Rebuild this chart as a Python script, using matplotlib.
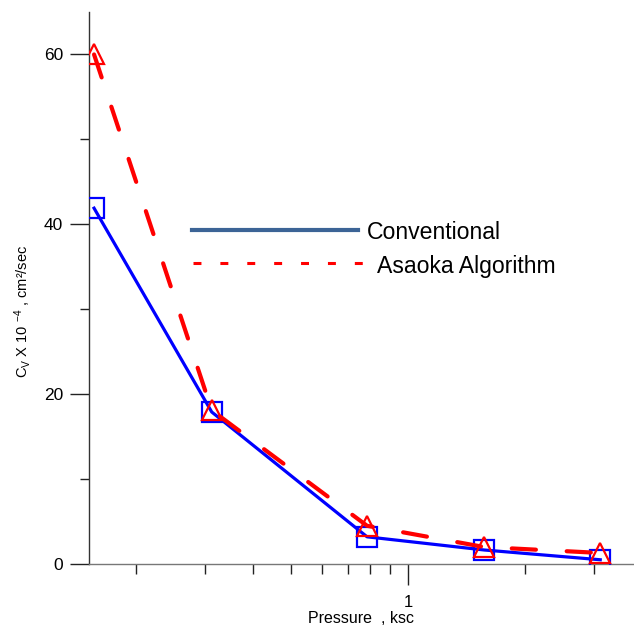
import matplotlib
matplotlib.use("Agg")
import matplotlib.pyplot as plt
from matplotlib.lines import Line2D
from matplotlib.ticker import FixedLocator, NullFormatter, FixedFormatter

# Consolidation coefficient vs. pressure
pressure = [0.156, 0.313, 0.785, 1.57, 3.12]          # ksc
cv_conventional = [41.9, 17.9, 3.2, 1.65, 0.5]        # x 10^-4 cm2/sec
cv_asaoka = [60.0, 18.1, 4.5, 2.0, 1.3]               # x 10^-4 cm2/sec

series_names = ["Conventional", "Asaoka Algorithm"]
y_major = [0, 20, 40, 60]
y_minor = [10, 30, 50]
x_major = [1]
x_minor = [0.2, 0.3, 0.4, 0.5, 0.6, 0.7, 0.8, 0.9, 2, 3]

plt.rcParams["font.family"] = ["Liberation Sans", "DejaVu Sans"]
plt.rcParams["mathtext.fontset"] = "custom"
plt.rcParams["mathtext.rm"] = "Liberation Sans"
plt.rcParams["mathtext.it"] = "Liberation Sans"

W, H = 634, 628
fig = plt.figure(figsize=(W / 100, H / 100), dpi=100)

def fx(px):
    return px / W

def fy(py):
    return 1 - py / H

left, right, top, bottom = 89, 634, 12, 564
ax = fig.add_axes([fx(left), fy(bottom), fx(right - left), (bottom - top) / H])

ax.plot(pressure, cv_conventional, color="#0000ff", lw=2.3,
        marker="s", ms=14, mfc="none", mec="#0000ff", mew=1.6, zorder=3)
ax.plot(pressure, cv_asaoka, color="#ff0000", lw=3.0,
        linestyle=(0, (5.8, 7.4)), dash_capstyle="round",
        marker="^", ms=14, mfc="none", mec="#ff0000", mew=1.6, zorder=4)

ax.set_xscale("log")
ax.set_xlim(0.1514, 3.81)
ax.set_ylim(0, 65)

ax.xaxis.set_major_locator(FixedLocator(x_major))
ax.xaxis.set_major_formatter(FixedFormatter([str(v) for v in x_major]))
ax.xaxis.set_minor_locator(FixedLocator(x_minor))
ax.xaxis.set_minor_formatter(NullFormatter())
ax.yaxis.set_major_locator(FixedLocator(y_major))
ax.yaxis.set_minor_locator(FixedLocator(y_minor))

for s in ["top", "right"]:
    ax.spines[s].set_visible(False)
ax.spines["left"].set_color("#333333")
ax.spines["bottom"].set_color("#777777")
ax.spines["left"].set_linewidth(1.0)
ax.spines["bottom"].set_linewidth(1.0)

ax.tick_params(axis="y", which="major", direction="out", length=13.7, width=1.0,
               color="#222222", labelsize=12.5, pad=5)
ax.tick_params(axis="y", which="minor", direction="out", length=6.8, width=1.0,
               color="#222222")
ax.tick_params(axis="x", which="major", direction="out", length=15, width=1.0,
               color="#222222", labelsize=12, pad=7)
ax.tick_params(axis="x", which="minor", direction="out", length=7.2, width=1.0,
               color="#222222")

ax.set_xlabel("Pressure  , ksc", fontsize=11.5, labelpad=1)
ax.set_ylabel(r"C$_\mathregular{V}$ X 10 $^{\mathregular{-4}}$ , cm²/sec", fontsize=10.5)
ax.yaxis.set_label_coords((33 - left) / (right - left), (bottom - 311) / (bottom - top))

# Key drawn inside the plotting area
fig.add_artist(Line2D([fx(192), fx(358)], [fy(230), fy(230)], color="#3c6496", lw=3.0))
fig.add_artist(Line2D([fx(193), fx(364)], [fy(263), fy(263)], color="#ff0000", lw=2.2,
                      linestyle=(0, (2.6, 6.2))))
fig.text(fx(367), fy(230), series_names[0], fontsize=16.6, ha="left", va="center_baseline")
fig.text(fx(377), fy(264), series_names[1], fontsize=16.6, ha="left", va="center_baseline")

fig.savefig("out.png", dpi=100)
